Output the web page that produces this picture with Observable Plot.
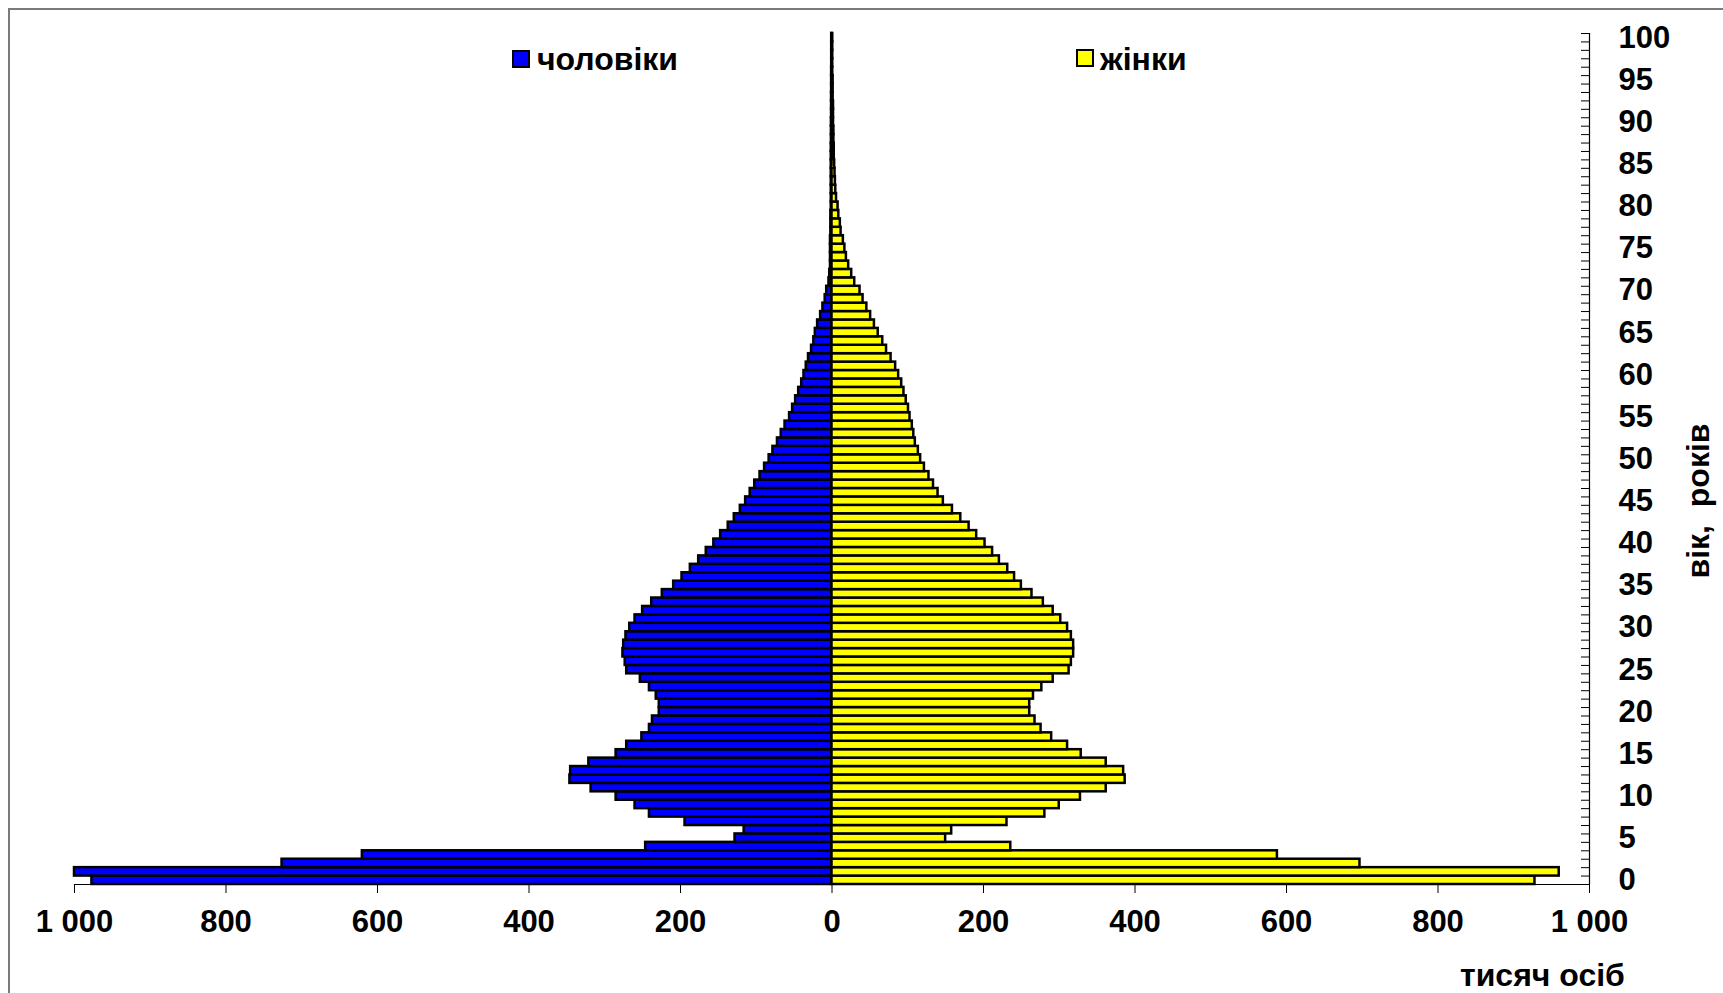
<!DOCTYPE html>
<html>
<head>
<meta charset="utf-8">
<script src="https://cdn.jsdelivr.net/npm/d3@7"></script>
<script src="https://cdn.jsdelivr.net/npm/@observablehq/plot@0.6"></script>
<style>
html, body { margin: 0; padding: 0; overflow: hidden; background: #fff; }
#wrap { position: relative; width: 1723px; height: 993px; font-family: "Liberation Sans", Arial, sans-serif; font-weight: bold; color: #000; }
#wrap svg { position: absolute; left: 0; top: 0; }
.frame { position: absolute; left: 8px; top: 8px; width: 1800px; height: 1100px; border: 2px solid #7a7a7a; pointer-events: none; }
.sq { position: absolute; width: 14px; height: 14px; border: 2px solid #000; }
.txt { position: absolute; font-size: 32px; line-height: 32px; white-space: pre; }
</style>
</head>
<body>
<div id="wrap"></div>
<script>
// Age categories (years)
const ages = d3.range(0, 101);
// Men, thousand persons, by single year of age 0..100
const male = [977,1000,726,620,246,128,116,194,241,260,
  285,318,346,345,321,285,271,251,241,237,
  228,228,232,241,253,271,273,276,275,272,
  267,260,250,238,224,209,198,187,176,166,
  156,147,137,129,121,114,108,102,95,89,
  83,78,72,67,62,56,52,48,44,40,
  37,34,31,27,24,22,19,15,12,9,
  7,4,3,2,2,2,2,1.5,1.5,1.5,
  1,1,1,1,1,1,1,1,0.8,0.8,
  0.8,0.6,0.6,0.6,0.5,0.5,0.5,0.4,0.4,0.4,0.4];
// Women, thousand persons, by single year of age 0..100
const female = [928,960,697,588,236,150,158,231,281,300,
  328,362,387,385,362,329,311,290,276,268,
  261,261,266,277,292,313,316,319,319,316,
  311,302,292,279,264,250,241,232,221,212,
  202,191,181,170,159,147,140,134,128,122,
  117,114,110,108,106,103,101,98,95,92,
  88,84,78,72,67,61,56,51,46,41,
  37,30,26,22,19,17,15,12,11,9,
  8,6,5,4.5,4,3.5,3,3,2.5,2.5,
  2,2,2,1.5,1.5,1.5,1,1,1,1,1];
const xTicks = [-1000,-800,-600,-400,-200,0,200,400,600,800,1000];
const xTickLabels = ["1 000","800","600","400","200","0","200","400","600","800","1 000"];
const yTicks = [0,5,10,15,20,25,30,35,40,45,50,55,60,65,70,75,80,85,90,95,100];
const seriesNames = ["чоловіки", "жінки"];
const xTitle = "тисяч осіб";
const yTitle = "вік,  років";

const data = ages.map((a, i) => ({age: a, male: male[i], female: female[i]}));
const minorTicks = ages.map(a => a + 0.5);

const chart = Plot.plot({
  width: 1723,
  height: 993,
  marginLeft: 74,
  marginRight: 134,
  marginTop: 33,
  marginBottom: 109,
  style: {background: "transparent", fontFamily: "'Liberation Sans', Arial, sans-serif", fontSize: "31px", fontWeight: "bold", color: "#000"},
  x: {domain: [-1000, 1000]},
  y: {domain: [-0.5, 100.5]},
  marks: [
    Plot.rect(data, {x1: 0, x2: d => -d.male, y1: d => d.age - 0.5, y2: d => d.age + 0.5, fill: "#0000ff", stroke: "#000", strokeWidth: 2.5}),
    Plot.rect(data, {x1: 0, x2: d => d.female, y1: d => d.age - 0.5, y2: d => d.age + 0.5, fill: "#ffff00", stroke: "#000", strokeWidth: 2.5}),
    Plot.ruleY([-0.5], {stroke: "#000", strokeWidth: 1.2}),
    Plot.ruleX([1000], {stroke: "#000", strokeWidth: 1.2}),
    Plot.axisX({ticks: xTicks, tickFormat: (d, i) => xTickLabels[xTicks.indexOf(d)], tickSize: 9, tickPadding: 16, label: null}),
    Plot.axisY({anchor: "right", ticks: yTicks, tickSize: 0, tickPadding: 29, label: null, tickFormat: d => String(d)}),
    Plot.axisY({anchor: "right", ticks: minorTicks, tickSize: 9, dx: -9, fill: "none", label: null})
  ]
});

const wrap = document.getElementById("wrap");
wrap.appendChild(chart);

function add(cls, css, text) {
  const el = document.createElement("div");
  el.className = cls;
  el.style.cssText = css;
  if (text !== undefined) el.textContent = text;
  wrap.appendChild(el);
  return el;
}
add("sq", "left:512px;top:50px;background:#0000ff;");
add("txt", "left:537px;top:43px;", seriesNames[0]);
add("sq", "left:1076px;top:49px;background:#ffff00;");
add("txt", "left:1100px;top:43px;", seriesNames[1]);
add("txt", "left:1460px;top:959px;", xTitle);
add("txt", "left:1698px;top:501px;transform:translate(-50%,-50%) rotate(-90deg);", yTitle);
add("frame", "");
</script>
</body>
</html>
